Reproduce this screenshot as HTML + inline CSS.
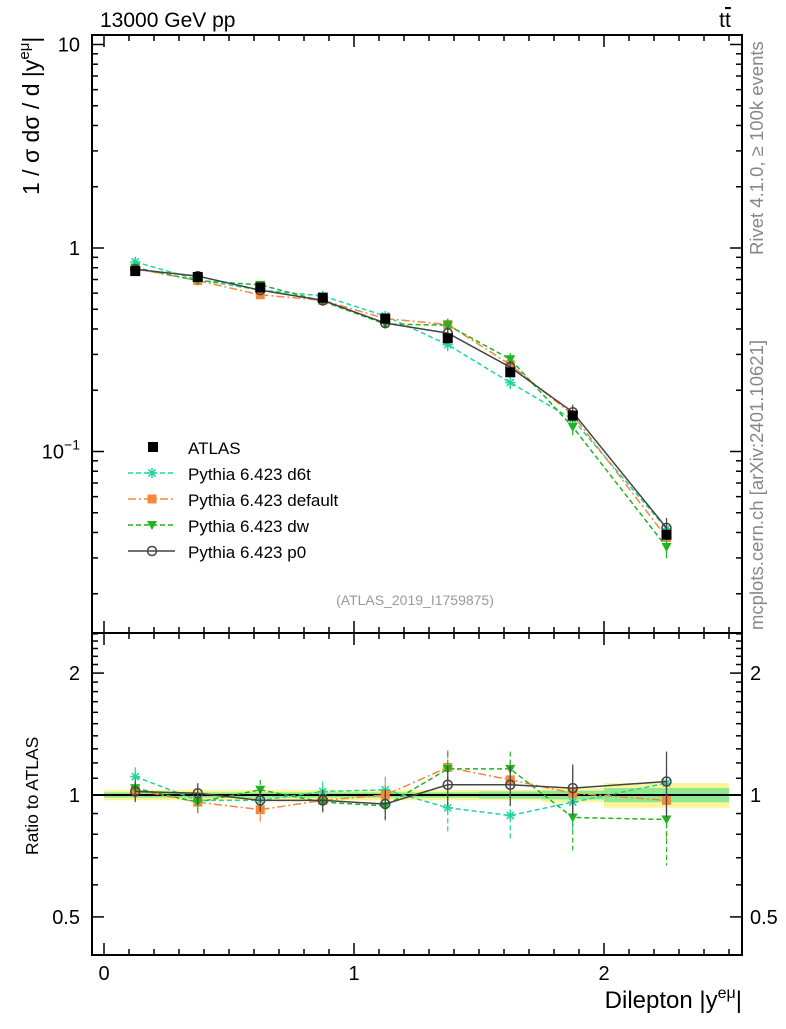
<!DOCTYPE html>
<html><head><meta charset="utf-8">
<style>
body{margin:0;background:#fff;}
svg text{font-family:"Liberation Sans",sans-serif;}
</style></head>
<body>
<svg id="c" width="786" height="1024" xmlns="http://www.w3.org/2000/svg"></svg>
<script>
const binCenters=[0.125,0.375,0.625,0.875,1.125,1.375,1.625,1.875,2.25];
const binHalf=[0.125,0.125,0.125,0.125,0.125,0.125,0.125,0.125,0.25];
const atlasVals=[0.77,0.72,0.64,0.57,0.45,0.36,0.245,0.15,0.039];
const bandOuter=[0.03,0.03,0.03,0.03,0.03,0.03,0.03,0.04,0.07];
const bandInner=[0.015,0.015,0.015,0.015,0.015,0.015,0.02,0.025,0.04];
const d6tRatio=[1.11,0.97,0.97,1.02,1.03,0.93,0.89,0.96,1.07];
const defRatio=[1.03,0.96,0.92,0.97,1.00,1.17,1.09,1.01,0.97];
const dwRatio=[1.04,0.96,1.03,0.96,0.94,1.16,1.16,0.88,0.87];
const p0Ratio=[1.02,1.01,0.97,0.97,0.95,1.06,1.06,1.04,1.08];
const ratioErr=[0.06,0.06,0.06,0.06,0.08,0.12,0.12,0.15,0.2];
const mainTicks=[0.1,1,10];
const ratioTicks=[0.5,1,2];
const xTicks=[0,1,2];

const S=document.getElementById('c');const NS='http://www.w3.org/2000/svg';
function el(t,a,p){const e=document.createElementNS(NS,t);for(const k in a)e.setAttribute(k,a[k]);(p||S).appendChild(e);return e;}
const X0=92,X1=742,MT=35,MB=633,RT=633,RB=955;
const xs=v=>104+250*v;
const ym=v=>248-203.5*Math.log10(v);
const yr=v=>795-405*Math.log10(v);

binCenters.forEach((c,i)=>{
 let r=el('rect',{x:xs(c-binHalf[i]),y:yr(1+bandOuter[i]),width:250*2*binHalf[i],height:yr(1-bandOuter[i])-yr(1+bandOuter[i]),fill:'#fbf59a'});
 
 let g=el('rect',{x:xs(c-binHalf[i]),y:yr(1+bandInner[i]),width:250*2*binHalf[i],height:yr(1-bandInner[i])-yr(1+bandInner[i]),fill:'#8fe88f'});
 
});
el('line',{x1:X0,x2:X1,y1:yr(1),y2:yr(1),stroke:'#000','stroke-width':2});

let f1=el('rect',{x:X0,y:MT,width:X1-X0,height:MB-MT,fill:'none',stroke:'#000','stroke-width':2});

let f2=el('rect',{x:X0,y:RT,width:X1-X0,height:RB-RT,fill:'none',stroke:'#000','stroke-width':2});


for(let v=0;v<=2.6;v+=0.1){const x=xs(v);if(x<X0||x>X1)continue;const maj=Math.abs(v-Math.round(v))<1e-6;const L=maj?12:6;
 [MT,RT].forEach(t=>el('line',{x1:x,x2:x,y1:t,y2:t+L,stroke:'#000','stroke-width':1.5}));
 [MB,RB].forEach(b=>el('line',{x1:x,x2:x,y1:b,y2:b-L,stroke:'#000','stroke-width':1.5}));}
xTicks.forEach(v=>{const t=el('text',{x:xs(v),y:980,'font-size':20,'text-anchor':'middle'});t.textContent=v;});

for(let d=-2;d<=1;d++)for(let m=1;m<10;m++){const v=m*Math.pow(10,d);const y=ym(v);if(y<MT||y>MB)continue;const L=m==1?12:6;
 el('line',{x1:X0,x2:X0+L,y1:y,y2:y,stroke:'#000','stroke-width':1.5});el('line',{x1:X1,x2:X1-L,y1:y,y2:y,stroke:'#000','stroke-width':1.5});}
mainTicks.forEach((v,i)=>{const t=el('text',{x:80,y:ym(v)+7,'font-size':20,'text-anchor':'end'});
 if(v<1){t.innerHTML='10<tspan dy="-9" font-size="14">−1</tspan>';}else t.textContent=v;
 });
for(let v=0.4;v<=2.6;v+=0.1){const y=yr(v);if(y<RT||y>RB)continue;const maj=[0.5,1,2].some(q=>Math.abs(q-v)<1e-6);const L=maj?12:6;
 el('line',{x1:X0,x2:X0+L,y1:y,y2:y,stroke:'#000','stroke-width':1.5});el('line',{x1:X1,x2:X1-L,y1:y,y2:y,stroke:'#000','stroke-width':1.5});}
ratioTicks.forEach(v=>{[[80,'end'],[750,'start']].forEach(([x,a])=>{const t=el('text',{x:x,y:yr(v)+7,'font-size':20,'text-anchor':a});t.textContent=v;});});

const series=[
 {name:'d6t',r:d6tRatio,col:'#1fd6a0',dash:'5,3',mk:'star'},
 {name:'default',r:defRatio,col:'#f7883a',dash:'8,3,2,3',mk:'sq'},
 {name:'dw',r:dwRatio,col:'#1fb51f',dash:'5,3',mk:'tri'},
 {name:'p0',r:p0Ratio,col:'#444',dash:'',mk:'circ'}];
function marker(k,x,y,c,g){
 if(k=='sq')el('rect',{x:x-4.5,y:y-4.5,width:9,height:9,fill:c},g);
 else if(k=='tri')el('path',{d:`M${x-5},${y-4}L${x+5},${y-4}L${x},${y+5}Z`,fill:c},g);
 else if(k=='circ')el('circle',{cx:x,cy:y,r:4.5,fill:'none',stroke:c,'stroke-width':1.5},g);
 else{for(let a=0;a<4;a++){const t=a*Math.PI/4;el('line',{x1:x-5*Math.cos(t),y1:y-5*Math.sin(t),x2:x+5*Math.cos(t),y2:y+5*Math.sin(t),stroke:c,'stroke-width':1.5},g);}}
}
series.forEach(s=>{
 const g=el('g',{});
 const mv=binCenters.map((c,i)=>atlasVals[i]*s.r[i]);
 el('polyline',{points:binCenters.map((c,i)=>xs(c)+','+ym(mv[i])).join(' '),fill:'none',stroke:s.col,'stroke-width':1.5,'stroke-dasharray':s.dash},g);
 el('polyline',{points:binCenters.map((c,i)=>xs(c)+','+yr(s.r[i])).join(' '),fill:'none',stroke:s.col,'stroke-width':1.5,'stroke-dasharray':s.dash},g);
 binCenters.forEach((c,i)=>{const x=xs(c);
  el('line',{x1:x,x2:x,y1:ym(mv[i]*(1+ratioErr[i]*0.6)),y2:ym(mv[i]*(1-ratioErr[i]*0.6)),stroke:s.col,'stroke-width':1.2},g);
  el('line',{x1:x,x2:x,y1:yr(s.r[i]+ratioErr[i]),y2:yr(s.r[i]-ratioErr[i]),stroke:s.col,'stroke-width':1.2,'stroke-dasharray':s.dash},g);
  marker(s.mk,x,ym(mv[i]),s.col,g);marker(s.mk,x,yr(s.r[i]),s.col,g);});
});
binCenters.forEach((c,i)=>{const r=el('rect',{x:xs(c)-5,y:ym(atlasVals[i])-5,width:10,height:10,fill:'#000'});});

const leg=[['ATLAS','#000','','atlas'],['Pythia 6.423 d6t','#1fd6a0','5,3','star'],['Pythia 6.423 default','#f7883a','8,3,2,3','sq'],['Pythia 6.423 dw','#1fb51f','5,3','tri'],['Pythia 6.423 p0','#444','','circ']];
leg.forEach((l,i)=>{const y=447+26*i;const g=el('g',{});
 if(l[3]=='atlas')el('rect',{x:148,y:y-5,width:10,height:10,fill:'#000'},g);
 else{el('line',{x1:128,x2:175,y1:y,y2:y,stroke:l[1],'stroke-width':1.5,'stroke-dasharray':l[2]},g);marker(l[3],152,y,l[1],g);}
 const t=el('text',{x:188,y:y+7,'font-size':17},g);t.textContent=l[0];});

function txt(s,a,name){const t=el('text',a);t.textContent=s;return t;}
txt('13000 GeV pp',{x:100,y:27,'font-size':21},'title');
const tt=el('text',{x:725,y:27,'font-size':21,'text-anchor':'middle'});tt.innerHTML='t<tspan text-decoration="overline">t</tspan>';
txt('(ATLAS_2019_I1759875)',{x:415,y:605,'font-size':14,fill:'#999','text-anchor':'middle'},'analysis-id');
txt('Rivet 4.1.0, ≥ 100k events',{x:0,y:0,'font-size':18.5,fill:'#888',transform:'translate(763,255) rotate(-90)'},'rivet-label');
txt('mcplots.cern.ch [arXiv:2401.10621]',{x:0,y:0,'font-size':18.5,fill:'#888',transform:'translate(763,630) rotate(-90)'},'mcplots-label');
const yl=el('text',{x:0,y:0,'font-size':23,transform:'translate(39,195) rotate(-90)'});yl.innerHTML='1 / σ  dσ / d |y<tspan dy="-10" font-size="15">eμ</tspan><tspan dy="10">|</tspan>';
txt('Ratio to ATLAS',{x:0,y:0,'font-size':17.5,transform:'translate(38,855) rotate(-90)'},'ratio-axis-title');
const xl=el('text',{x:742,y:1008,'font-size':24,'text-anchor':'end'});xl.innerHTML='Dilepton |y<tspan dy="-10" font-size="16">eμ</tspan><tspan dy="10">|</tspan>';
</script>
</body></html>
